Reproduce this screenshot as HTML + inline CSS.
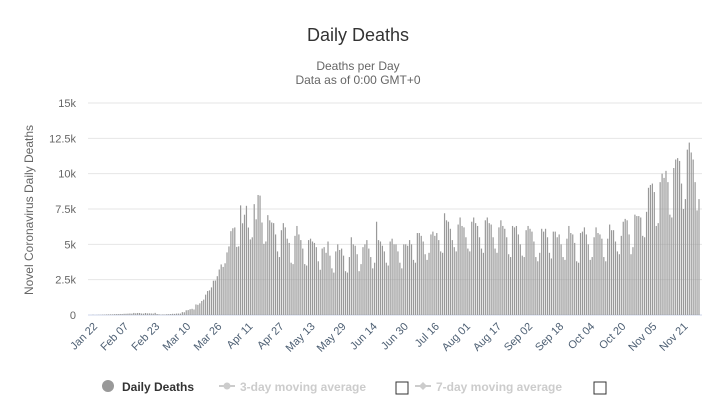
<!DOCTYPE html>
<html><head><meta charset="utf-8"><style>
body{margin:0;background:#fff;font-family:"Liberation Sans",sans-serif}
svg text{font-family:"Liberation Sans",sans-serif}
</style></head><body>
<svg id="c" width="728" height="404">
<text x="358" y="41" text-anchor="middle" font-size="18" fill="#333">Daily Deaths</text>
<text x="358" y="70" text-anchor="middle" font-size="12" fill="#666">Deaths per Day</text>
<text x="358" y="84" text-anchor="middle" font-size="12" fill="#666">Data as of 0:00 GMT+0</text>
<text transform="translate(33,210) rotate(-90)" text-anchor="middle" font-size="12" fill="#666">Novel Coronavirus Daily Deaths</text>
<g id="grid"></g><g id="bars"></g><g id="xl"></g>
<g>
<g><circle cx="108" cy="386" r="6" fill="#999"/><text x="122" y="391" font-size="12" font-weight="bold" fill="#333">Daily Deaths</text></g>
<g><line x1="219" y1="386" x2="235" y2="386" stroke="#ccc" stroke-width="2"/><circle cx="227" cy="386" r="3.5" fill="#ccc"/><text x="240" y="391" font-size="12" font-weight="bold" fill="#ccc">3-day moving average</text></g>
<rect x="396" y="382" width="12" height="12" fill="#fff" stroke="#333"/>
<g><line x1="415" y1="386" x2="431" y2="386" stroke="#ccc" stroke-width="2"/><path d="M423 382 L427 386 L423 390 L419 386Z" fill="#ccc"/><text x="436" y="391" font-size="12" font-weight="bold" fill="#ccc">7-day moving average</text></g>
<rect x="594" y="382" width="12" height="12" fill="#fff" stroke="#333"/>
</g>
</svg>
<script>
const yTicks=[0,2500,5000,7500,10000,12500,15000];
const yTickLabels=["0","2.5k","5k","7.5k","10k","12.5k","15k"];
const xTickLabels=["Jan 22","Feb 07","Feb 23","Mar 10","Mar 26","Apr 11","Apr 27","May 13","May 29","Jun 14","Jun 30","Jul 16","Aug 01","Aug 17","Sep 02","Sep 18","Oct 04","Oct 20","Nov 05","Nov 21"];
const deathsJanFeb=[17,0,8,16,14,26,26,38,43,46,45,57,64,66,73,73,86,89,97,108,97,146,121,143,142,105,98,139,115,118,109,97,150,71,52,29,44,37,58];
const deathsMar=[60,70,84,79,100,102,102,203,193,333,347,408,437,391,746,721,826,993,1090,1441,1697,1743,1954,2428,2441,2746,3220,3578,3402,3659,4429];
const deathsApr=[4853,5931,6137,6196,4818,4858,7756,6489,7095,7726,6189,5346,5497,7843,6770,8492,8448,6545,5035,5203,7066,6700,6544,6500,5700,4500,4100,6000,6500,6200];
const deathsMay=[5400,5100,3700,3600,5600,6300,5700,5300,4700,3600,3500,5300,5400,5200,5100,4800,3800,3200,4700,4800,4400,5200,4200,3300,3000,4500,5000,4600,4700,4200,3100];
const deathsJun=[3000,4100,5500,5000,4900,4300,3100,3600,4800,5000,5300,4700,4100,3300,3700,6600,5300,5200,4900,4500,3700,3500,5200,5400,5000,5000,4500,3700,3300,5000];
const deathsJul=[5000,4900,5300,5000,3900,3700,5800,5800,5600,5200,4300,3900,4400,5700,5900,5600,5800,5300,4500,4400,7200,6700,6600,6100,5300,4800,4500,6400,6900,6300,6200];
const deathsAug=[5500,4700,4500,6600,6900,6500,6300,5500,4700,4400,6700,6900,6500,6400,5500,4700,4400,6200,6700,6300,6100,5500,4300,4100,6300,6200,6300,5700,5000,4200,4100];
const deathsSep=[6000,6300,6100,5900,5200,4100,3800,4400,6100,5900,6100,5500,4400,4000,5900,5900,5500,5700,5000,4100,3900,5400,6300,5800,5700,5100,3800,3700,5800,5900];
const deathsOct=[6200,5700,5000,3900,4100,5500,6200,5800,5700,5400,4100,3800,5400,6400,6000,6000,5200,4500,4300,5600,6600,6800,6700,5700,4300,4800,7100,7000,7000,6900,5600];
const deathsNov=[5500,7300,9000,9200,9300,8700,6300,6500,9400,10000,9700,10200,9400,7100,6900,10400,11000,11100,10900,9300,7500,8200,11700,12200,11500,11000,9400,7400,8200];
const deaths=[].concat(deathsJanFeb,deathsMar,deathsApr,deathsMay,deathsJun,deathsJul,deathsAug,deathsSep,deathsOct,deathsNov);
const NS="http://www.w3.org/2000/svg";
const X0=93,X1=699,Y0=315,Y1=103,VMAX=15000;
const step=(X1-X0)/(deaths.length-1);
const xs=i=>X0+i*step;
const ys=v=>Y0-(v/VMAX)*(Y0-Y1);
function mk(t,a){const e=document.createElementNS(NS,t);for(const k in a)e.setAttribute(k,a[k]);return e;}
const grid=document.getElementById('grid');
yTicks.forEach((v,i)=>{
  const l=mk('line',{x1:88,x2:702,y1:ys(v),y2:ys(v),stroke:i===0?'#ccd6eb':'#e6e6e6','stroke-width':1});
  
  
  grid.appendChild(l);
  const t=mk('text',{x:76,y:ys(v)+4,'text-anchor':'end','font-size':11,fill:'#666'});
  
  
  t.textContent=yTickLabels[i];grid.appendChild(t);
});
const bars=document.getElementById('bars');
deaths.forEach((v,i)=>{
  const r=mk('rect',{x:xs(i)-0.6,y:ys(v),width:1.2,height:Y0-ys(v),fill:'#999'});
  
  
  bars.appendChild(r);
});
const xl=document.getElementById('xl');
xTickLabels.forEach((s,k)=>{
  const x=xs(k*16);
  const t=mk('text',{transform:`translate(${x+5},${Y0+12}) rotate(-45)`,'text-anchor':'end','font-size':11,fill:'#4d5f73'});
  
  
  t.textContent=s;xl.appendChild(t);
});
</script>
</body></html>
